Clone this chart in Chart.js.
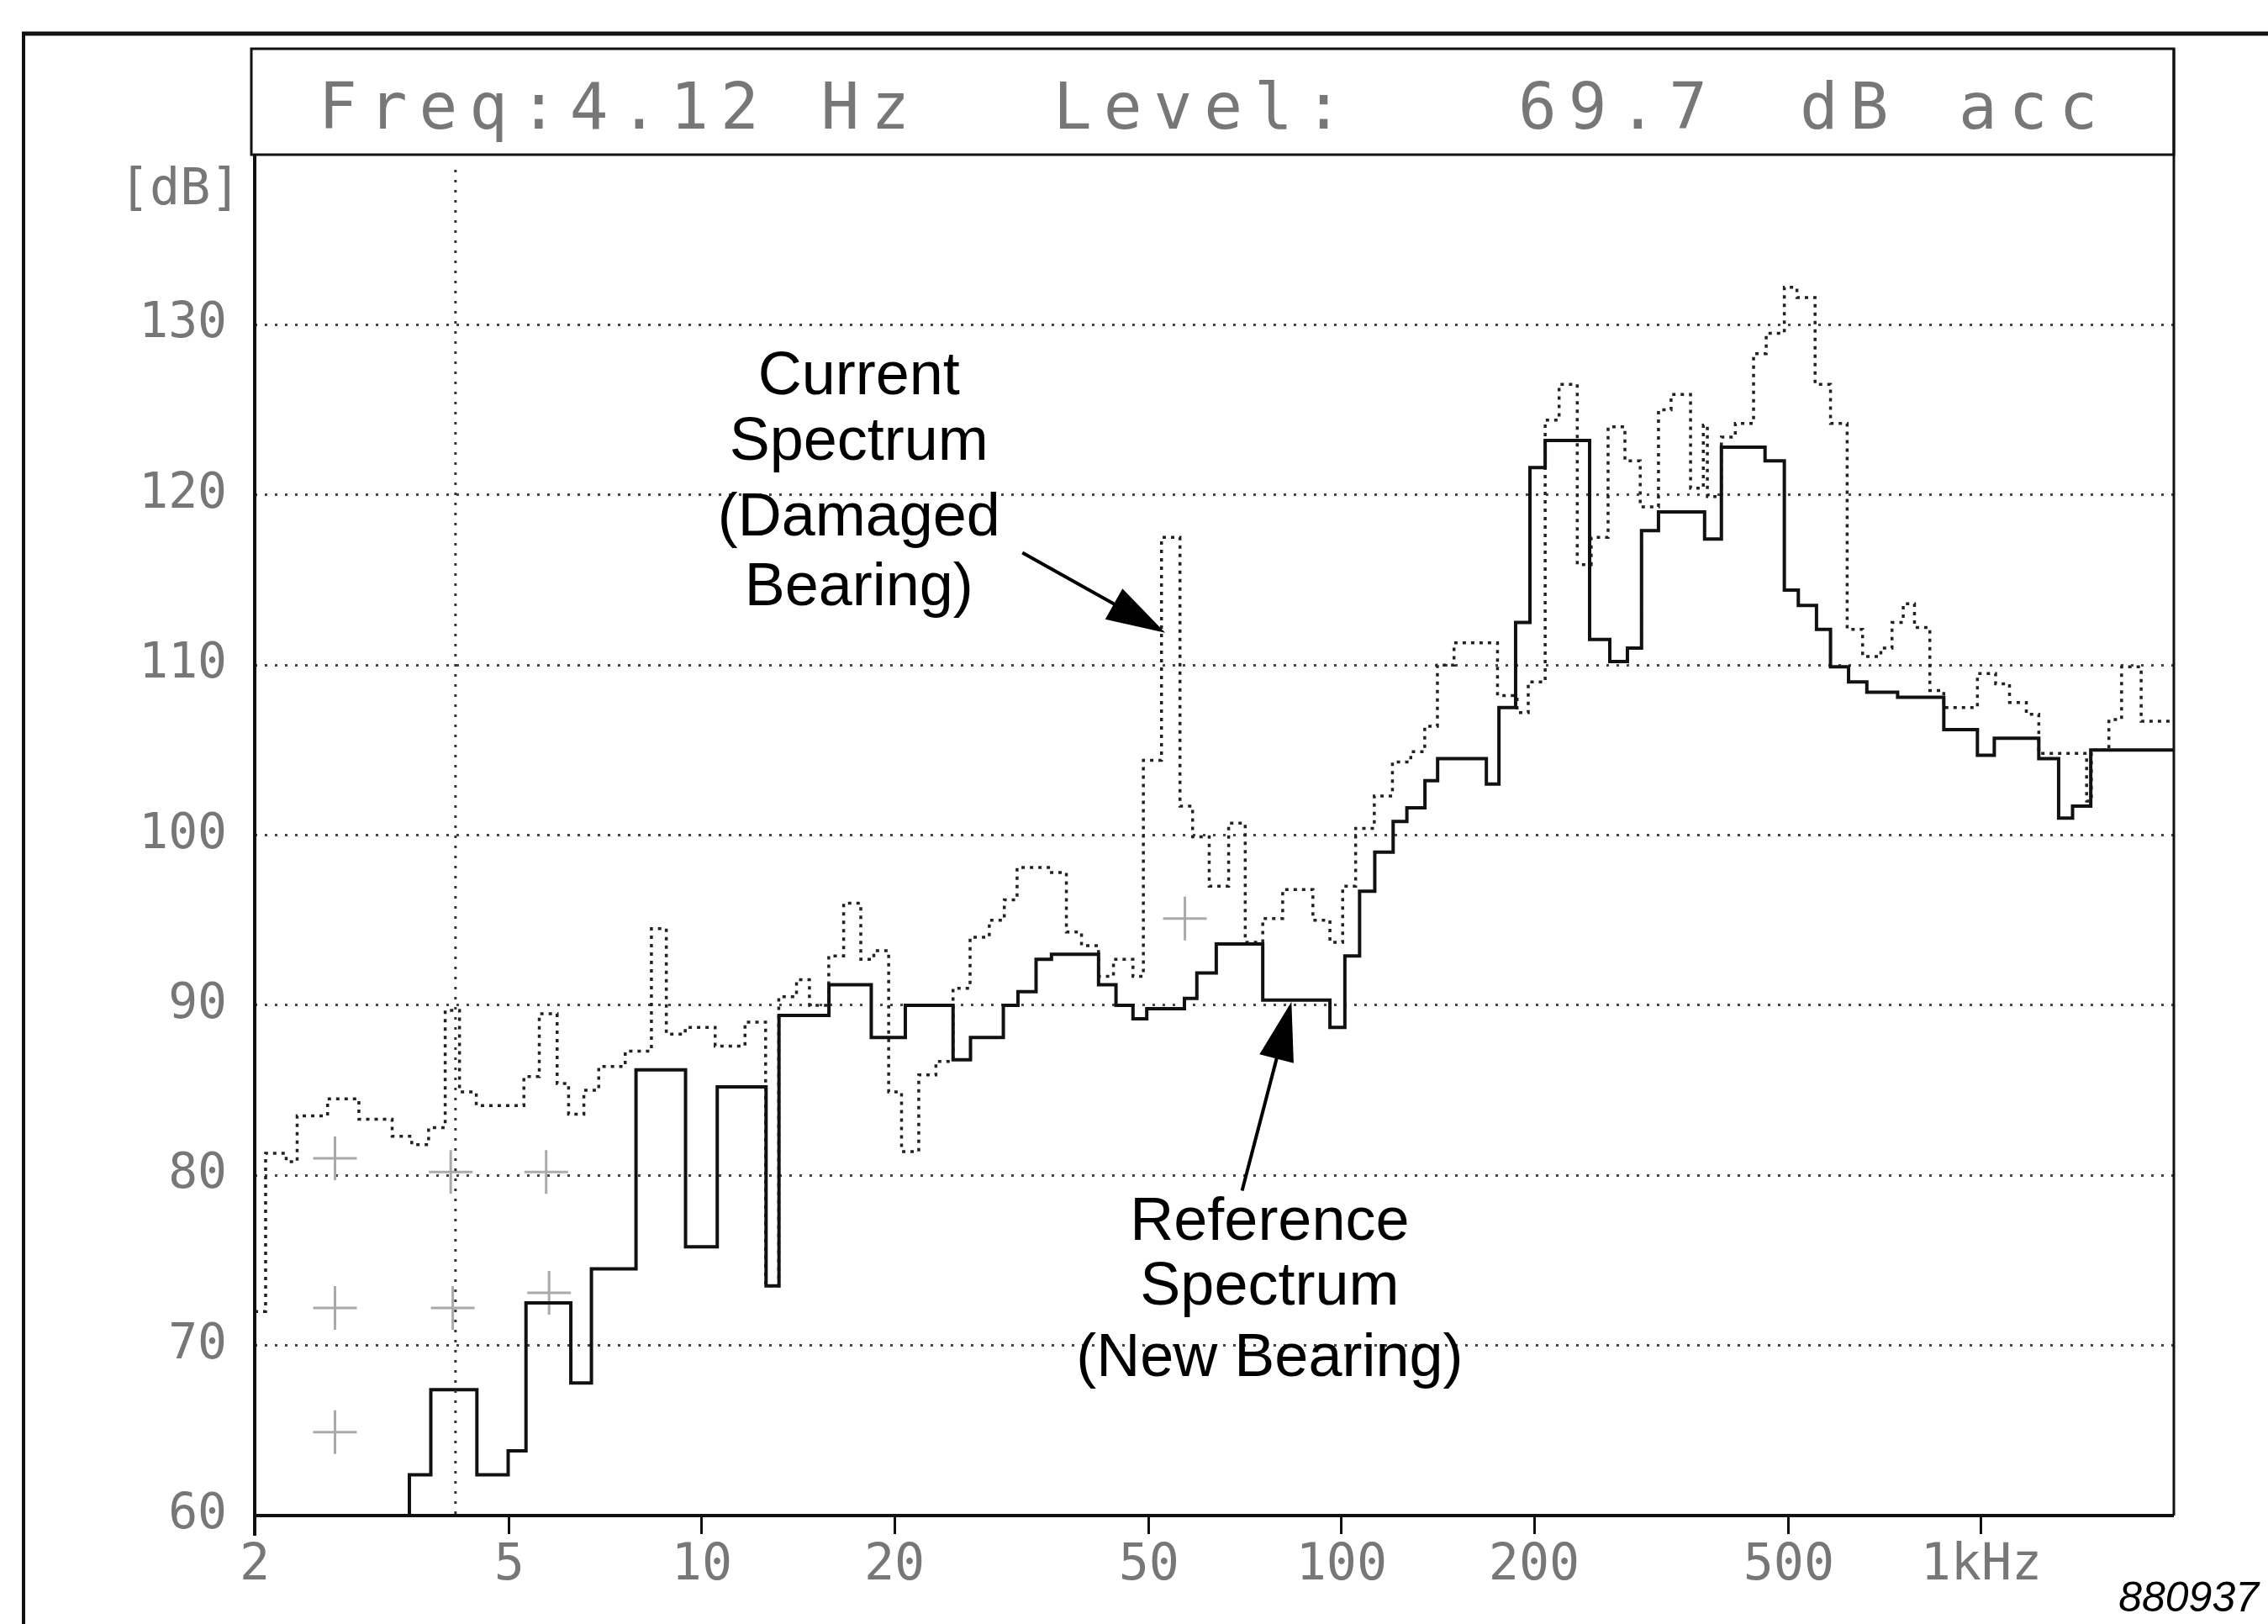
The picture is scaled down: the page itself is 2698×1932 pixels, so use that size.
<!DOCTYPE html>
<html>
<head>
<meta charset="utf-8">
<title>Bearing vibration spectrum</title>
<script src="https://cdn.jsdelivr.net/npm/chart.js@4.4.1/dist/chart.umd.min.js"></script>
<style>
  html, body { margin: 0; padding: 0; background: #fff; }
  canvas { display: block; }
</style>
</head>
<body>
<canvas id="spectrum" width="2698" height="1932"></canvas>
<script>
// Band start frequency (Hz) and level (dB).
// Reference spectrum, new bearing (solid line)
const refFreq = [2, 3.49, 3.77, 4.45, 4.98, 5.31, 6.24, 6.72, 7.89, 9.43, 10.57, 12.6, 13.2, 15.8, 18.4,
  20.8, 24.7, 26.3, 29.6, 31.2, 33.3, 35.2, 41.7, 44.4, 47.2, 49.6, 56.8, 59.4, 63.7, 75.3, 95.9,
  101.2, 106.7, 112.7, 120.4, 126.5, 135, 141.3, 168.4, 176.2, 187.1, 197, 208.1, 244.2, 262.6,
  279.8, 294.4, 312.9, 369.4, 392.4, 459.2, 492.2, 517.6, 552.6, 581.2, 620.2, 662.4, 740, 873.8,
  986.2, 1048, 1230, 1321, 1389, 1483, 2000];
const refLevel = [60, 62.4, 67.4, 62.4, 63.8, 72.5, 67.8, 74.5, 86.2, 75.8, 85.2, 73.5, 89.4, 91.2, 88.1,
  90, 86.8, 88.1, 90, 90.8, 92.7, 93.0, 91.2, 90, 89.2, 89.8, 90.4, 91.9, 93.6, 90.3, 88.7,
  92.9, 96.7, 99, 100.8, 101.6, 103.2, 104.5, 103, 107.5, 112.5, 121.6, 123.2, 111.5, 110.2,
  111, 117.9, 119, 117.4, 122.8, 122, 114.4, 113.5, 112.1, 109.9, 109, 108.4, 108.1, 106.2,
  104.7, 105.7, 104.5, 101, 101.7, 105, 105];

// Current spectrum, damaged bearing (dotted line)
const curFreq = [2, 2.08, 2.24, 2.33, 2.6, 2.91, 3.28, 3.52, 3.74, 3.97, 4.18, 4.44, 5.27, 5.57, 5.94,
  6.19, 6.54, 6.9, 7.59, 8.34, 8.8, 9.42, 10.49, 11.68, 12.58, 13.19, 14.06, 14.73, 15.79, 16.66,
  17.72, 18.57, 19.59, 20.52, 21.83, 23.22, 24.7, 26.26, 28.14, 29.7, 31.1, 35.2, 37.14, 39.22,
  41.7, 44.0, 47.2, 49.0, 52.3, 55.9, 58.5, 62.1, 66.6, 70.7, 75.3, 80.9, 90.2, 95.9, 100.4,
  105.2, 112.5, 120.1, 128.3, 134.9, 141.2, 149.9, 175.3, 188.1, 195.8, 208.1, 218.8, 233.6,
  245.6, 261, 277.3, 293, 312.9, 327.4, 351.2, 367.7, 373.1, 392.4, 412.6, 440.6, 461.1, 492.2,
  515, 549.8, 581.2, 617.1, 652.4, 696.7, 725.2, 755.1, 786.3, 831, 873.8, 986.2, 1053, 1107,
  1176, 1230, 1461, 1486, 1583, 1657, 1778, 2000];
const curLevel = [72, 81.3, 80.8, 83.5, 84.5, 83.3, 82.3, 81.8, 82.8, 89.7, 84.9, 84.1, 85.8, 89.5, 85.4,
  83.6, 85, 86.4, 87.3, 94.5, 88.3, 88.7, 87.6, 89, 73.5, 90.5, 91.5, 90, 92.9, 96,
  92.7, 93.2, 84.9, 81.4, 85.9, 86.7, 91, 94, 95, 96.2, 98.1, 97.8, 94.3, 93.5,
  91.7, 92.7, 91.7, 104.4, 117.5, 101.7, 99.9, 97, 100.7, 93.7, 95.1, 96.8, 95, 93.7, 97,
  100.4, 102.3, 104.3, 104.9, 106.4, 110, 111.3, 108.2, 107.2, 109, 124.4, 126.5, 115.9,
  117.5, 124, 122, 119.3, 125, 125.9, 120.4, 124.1, 119.9, 123.4, 124.2, 128.3, 129.5, 132.2,
  131.6, 126.5, 124.2, 112.1, 110.5, 111, 112.5, 113.6, 112.2, 108.5, 107.5, 109.5, 108.9, 107.8,
  107.1, 104.8, 102, 105, 106.8, 109.9, 106.7, 106.7];

// faint cross-shaped marks printed by the analyser
const markFreq = [2.67, 2.67, 2.67, 4.05, 4.08, 5.71, 5.77, 56.9];
const markLevel = [81.0, 72.2, 64.9, 80.2, 72.2, 80.2, 73.1, 95.1];

const xTickValues = [2, 5, 10, 20, 50, 100, 200, 500, 1000];
const xTickLabels = ['2', '5', '10', '20', '50', '100', '200', '500', '1kHz'];
const yTickValues = [60, 70, 80, 90, 100, 110, 120, 130];

const cursorFreq = 4.12;
const cursorLevel = '69.7';

const plotFont = '"DejaVu Sans Mono", "Liberation Mono", monospace';
const noteFont = '"Liberation Sans", Arial, sans-serif';

function toPoints(xs, ys) {
  return xs.map((x, i) => ({ x: x, y: ys[i] }));
}

function line(c, x0, y0, x1, y1) {
  c.beginPath();
  c.moveTo(x0, y0);
  c.lineTo(x1, y1);
  c.stroke();
}

function arrow(c, x0, y0, x1, y1) {
  const ang = Math.atan2(y1 - y0, x1 - x0);
  const len = 70, half = 21;
  const bx = x1 - len * Math.cos(ang), by = y1 - len * Math.sin(ang);
  c.lineWidth = 4;
  line(c, x0, y0, bx + 10 * Math.cos(ang), by + 10 * Math.sin(ang));
  c.beginPath();
  c.moveTo(x1, y1);
  c.lineTo(bx + half * Math.sin(ang), by - half * Math.cos(ang));
  c.lineTo(bx - half * Math.sin(ang), by + half * Math.cos(ang));
  c.closePath();
  c.fill();
}

// frame, readout box, cursor and the hand-drawn notes
const decorations = {
  id: 'decorations',
  beforeDraw(chart) {
    const c = chart.ctx;
    c.save();
    c.fillStyle = '#fff';
    c.fillRect(0, 0, chart.width, chart.height);
    c.restore();
  },
  afterDraw(chart) {
    const c = chart.ctx, a = chart.chartArea;
    const xs = chart.scales.x, ys = chart.scales.y;
    const px = f => xs.getPixelForValue(f);
    const py = v => ys.getPixelForValue(v);
    const boxTop = 58;

    c.save();
    c.strokeStyle = '#111';
    c.fillStyle = '#111';

    // outer border of the figure
    c.lineWidth = 5;
    line(c, 26, 40, chart.width, 40);
    c.lineWidth = 4;
    line(c, 28, 38, 28, chart.height);

    // readout box and axes
    c.lineWidth = 3;
    c.strokeRect(a.left - 4, boxTop, a.right - a.left + 4, a.top - boxTop);
    c.lineWidth = 4;
    line(c, a.left, a.top, a.left, a.bottom + 24);
    line(c, a.left, a.bottom, a.right, a.bottom);
    c.lineWidth = 3;
    line(c, a.right, boxTop, a.right, a.bottom);

    // cursor
    c.setLineDash([3, 9]);
    c.lineWidth = 3;
    c.strokeStyle = '#333';
    line(c, px(cursorFreq), a.top + 18, px(cursorFreq), a.bottom);
    c.setLineDash([]);

    // readout text
    c.fillStyle = '#777';
    c.font = '76px ' + plotFont;
    c.textAlign = 'left';
    c.textBaseline = 'alphabetic';
    c.letterSpacing = '14px';
    c.fillText('Freq:' + cursorFreq.toFixed(2) + ' Hz', 379, 153);
    c.fillText('Level:', 1253, 153);
    c.fillText(cursorLevel, 1806, 153);
    c.fillText('dB', 2141, 153);
    c.fillText('acc', 2330, 153);
    c.letterSpacing = '0px';

    // unit label of the y axis
    c.font = '60px ' + plotFont;
    c.fillText('[dB]', 142, 243);

    // notes with arrows
    c.fillStyle = '#000';
    c.strokeStyle = '#000';
    c.font = '72px ' + noteFont;
    c.textAlign = 'center';
    [['Current', 125.9], ['Spectrum', 122.05], ['(Damaged', 117.6], ['Bearing)', 113.5]]
      .forEach(([t, v]) => c.fillText(t, px(17.6), py(v)));
    [['Reference', 76.2], ['Spectrum', 72.4], ['(New Bearing)', 68.2]]
      .forEach(([t, v]) => c.fillText(t, px(77.2), py(v)));
    arrow(c, px(31.7), py(116.6), px(53.0), py(111.9));
    arrow(c, px(69.9), py(79.1), px(83.5), py(90.2));

    // figure number
    c.font = 'italic 50px ' + noteFont;
    c.textAlign = 'right';
    c.fillText('880937', 2687, 1917);
    c.restore();
  }
};

new Chart(document.getElementById('spectrum').getContext('2d'), {
  type: 'line',
  data: {
    datasets: [
      {
        label: 'Reference Spectrum (New Bearing)',
        data: toPoints(refFreq, refLevel),
        stepped: true,
        borderColor: '#111',
        borderWidth: 4,
        pointRadius: 0,
        fill: false
      },
      {
        label: 'Current Spectrum (Damaged Bearing)',
        data: toPoints(curFreq, curLevel),
        stepped: true,
        borderColor: '#222',
        borderWidth: 3.5,
        borderDash: [4, 6],
        pointRadius: 0,
        fill: false
      },
      {
        label: 'marks',
        data: toPoints(markFreq, markLevel),
        showLine: false,
        pointStyle: 'cross',
        pointRadius: 26,
        pointBorderWidth: 3,
        pointBorderColor: '#aaa',
        pointBackgroundColor: 'rgba(0,0,0,0)'
      }
    ]
  },
  options: {
    responsive: false,
    animation: false,
    layout: { padding: { top: 184, right: 112, bottom: 0, left: 0 } },
    plugins: { legend: { display: false }, tooltip: { enabled: false } },
    scales: {
      x: {
        type: 'logarithmic',
        min: 2,
        max: 2000,
        afterBuildTicks: s => { s.ticks = xTickValues.map(v => ({ value: v })); },
        afterFit: s => { s.height = 129; },
        grid: { drawOnChartArea: false, drawTicks: true, tickLength: 22, tickWidth: 3, tickColor: '#111' },
        border: { display: false },
        ticks: {
          autoSkip: false,
          maxRotation: 0,
          padding: 2,
          color: '#777',
          font: { family: plotFont, size: 60 },
          callback: (v, i) => xTickLabels[i]
        }
      },
      y: {
        min: 60,
        max: 140,
        afterBuildTicks: s => { s.ticks = yTickValues.map(v => ({ value: v })); },
        afterFit: s => { s.width = 303; },
        grid: { color: '#444', lineWidth: 3, drawTicks: false, borderDash: [3, 9] },
        border: { display: false, dash: [3, 9] },
        ticks: {
          padding: 33,
          color: '#777',
          font: { family: plotFont, size: 58 }
        }
      }
    }
  },
  plugins: [decorations]
});
</script>
</body>
</html>
